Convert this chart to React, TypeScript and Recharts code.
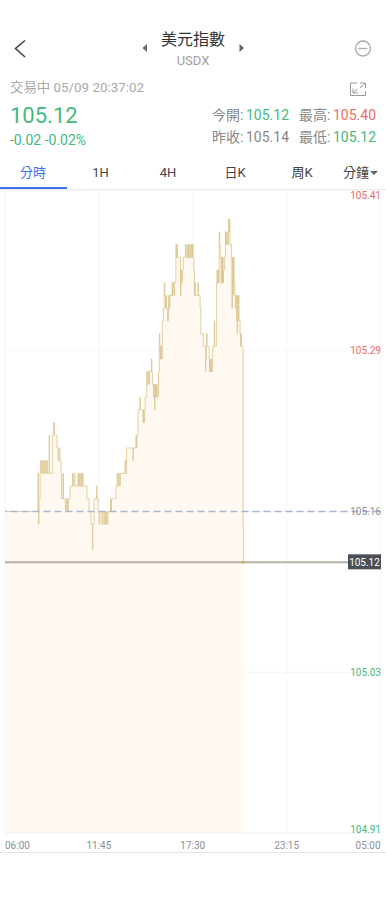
import React from 'react';
import {
  Area,
  CartesianGrid,
  ComposedChart,
  ReferenceDot,
  ReferenceLine,
  XAxis,
  YAxis
} from 'recharts';

// minutes after 06:00 at each price change
const minutes = [
  0, 121, 123, 125, 129, 130, 134, 138, 141, 145, 149, 152, 156, 162, 164, 175, 178, 182, 191, 195,
  198, 202, 206, 208, 213, 215, 222, 226, 230, 233, 239, 248, 250, 254, 257, 268, 270, 274, 276, 279,
  281, 285, 287, 301, 309, 316, 322, 323, 327, 336, 338, 342, 345, 349, 356, 360, 364, 367, 369, 373,
  375, 379, 388, 389, 391, 408, 412, 415, 417, 420, 424, 441, 443, 447, 470, 472, 481, 483, 485, 489,
  496, 498, 507, 509, 511, 513, 515, 521, 524, 525, 529, 531, 538, 540, 542, 546, 548, 550, 551, 553,
  555, 557, 559, 564, 567, 569, 571, 573, 575, 578, 582, 585, 587, 590, 592, 594, 597, 601, 604, 606,
  614, 616, 617, 621, 623, 628, 630, 632, 634, 645, 647, 649, 652, 655, 663, 665, 669, 671, 674, 676,
  679, 681, 685, 687, 689, 692, 694, 696, 698, 700, 709, 711, 717, 720, 729, 737, 738, 740, 743, 750,
  752, 753, 755, 757, 759, 763, 769, 771, 777, 779, 781, 783, 785, 787, 789, 791, 794, 796, 798, 800,
  802, 803, 807, 810, 812, 814, 818, 821, 823, 825, 827, 832, 834, 836, 838, 840, 842, 845, 847, 849,
  851, 853, 855, 856, 858, 860, 864, 866, 867, 869, 875, 876, 877
];

const prices = [
  105.16, 105.19, 105.15, 105.17, 105.19, 105.2, 105.19, 105.2, 105.19, 105.2, 105.19, 105.2, 105.19, 105.22, 105.19, 105.22, 105.23, 105.22, 105.21, 105.2,
  105.21, 105.2, 105.19, 105.17, 105.19, 105.17, 105.16, 105.17, 105.16, 105.17, 105.18, 105.19, 105.18, 105.19, 105.18, 105.19, 105.18, 105.19, 105.18, 105.19,
  105.18, 105.19, 105.18, 105.17, 105.16, 105.15, 105.13, 105.15, 105.17, 105.18, 105.17, 105.16, 105.15, 105.16, 105.15, 105.16, 105.15, 105.16, 105.15, 105.16,
  105.15, 105.16, 105.17, 105.16, 105.17, 105.18, 105.19, 105.18, 105.19, 105.18, 105.19, 105.2, 105.19, 105.21, 105.2, 105.21, 105.22, 105.21, 105.22, 105.24,
  105.25, 105.24, 105.23, 105.24, 105.23, 105.24, 105.25, 105.27, 105.26, 105.27, 105.26, 105.27, 105.28, 105.27, 105.26, 105.25, 105.26, 105.24, 105.25, 105.26,
  105.25, 105.26, 105.25, 105.27, 105.3, 105.29, 105.28, 105.29, 105.28, 105.31, 105.32, 105.34, 105.33, 105.32, 105.33, 105.32, 105.31, 105.33, 105.32, 105.33,
  105.34, 105.33, 105.34, 105.33, 105.34, 105.37, 105.36, 105.37, 105.36, 105.33, 105.35, 105.34, 105.35, 105.36, 105.37, 105.36, 105.37, 105.36, 105.37, 105.36,
  105.37, 105.36, 105.37, 105.36, 105.37, 105.36, 105.35, 105.33, 105.34, 105.33, 105.34, 105.33, 105.32, 105.3, 105.29, 105.27, 105.28, 105.3, 105.29, 105.28,
  105.27, 105.28, 105.27, 105.28, 105.27, 105.29, 105.31, 105.29, 105.34, 105.35, 105.34, 105.35, 105.34, 105.38, 105.37, 105.36, 105.34, 105.36, 105.34, 105.36,
  105.34, 105.35, 105.36, 105.38, 105.37, 105.38, 105.37, 105.39, 105.38, 105.39, 105.37, 105.36, 105.32, 105.36, 105.33, 105.36, 105.34, 105.33, 105.32, 105.33,
  105.31, 105.3, 105.33, 105.31, 105.33, 105.31, 105.3, 105.29, 105.3, 105.29, 105.15, 105.12, 105.12
];

const timeTicks = [0, 345, 690, 1035, 1380];
const timeLabels = ['06:00', '11:45', '17:30', '23:15', '05:00'];
const priceTicks = [104.907, 105.0335, 105.16, 105.2865, 105.413];
const tabs = ['分時', '1H', '4H', '日K', '周K', '分鐘'];
const tabCenters = [33, 100.5, 168, 235, 302, 356];

const lastPrice = 105.12;
const prevLine = 105.16;

const chartData = minutes.map((minute, i) => ({ minute, price: prices[i] }));

const FONT = 'Roboto, "Noto Sans CJK TC", sans-serif';
const GREEN = '#45b97c';
const RED = '#ee6b64';
const GRAY = '#888888';

function T({ x, y, size, color, anchor = 'left', children }: any) {
  const shift = anchor === 'center' ? '-50%' : anchor === 'right' ? '-100%' : '0';
  return (
    <span
      style={{
        position: 'absolute',
        left: x,
        top: y,
        transform: `translate(${shift}, -50%)`,
        fontSize: size,
        color,
        lineHeight: 1,
        whiteSpace: 'nowrap',
        fontFamily: FONT
      }}
    >
      {children}
    </span>
  );
}

function TimeTick({ x, y, payload, index }: any) {
  const anchor = index === 0 ? 'start' : index === timeLabels.length - 1 ? 'end' : 'middle';
  return (
    <text x={x} y={y} dy={8} textAnchor={anchor} fontSize={10} fontFamily={FONT} fill="#8a8f99">
      {timeLabels[timeTicks.indexOf(payload.value)]}
    </text>
  );
}

function PriceTick({ y, payload, index }: any) {
  const value = payload.value;
  const fill = value > prevLine ? RED : value < prevLine ? GREEN : '#8a8f99';
  const dy = index === 0 ? -4 : index === priceTicks.length - 1 ? 5 : 0;
  return (
    <text x={381} y={y + dy} dy={3.5} textAnchor="end" fontSize={10} fontFamily={FONT} fill={fill}>
      {value.toFixed(2)}
    </text>
  );
}

function LastTag({ viewBox }: any) {
  const y = viewBox.y;
  return (
    <g>
      <rect x={348} y={y - 8} width={33} height={15} fill="#4a4f57" />
      <text x={364.5} y={y} dy={3.5} textAnchor="middle" fontSize={10} fontFamily={FONT} fill="#ffffff">
        {lastPrice.toFixed(2)}
      </text>
    </g>
  );
}

function Header() {
  return (
    <>
      <svg width={386} height={190} style={{ position: 'absolute', left: 0, top: 0 }}>
        <polyline points="25,40.5 15.5,48.5 25,57" fill="none" stroke="#444" strokeWidth={1.6} />
        <polygon points="147,44 147,52 142.5,48" fill="#666" />
        <polygon points="239.5,44 239.5,52 244,48" fill="#666" />
        <circle cx={363} cy={48.5} r={7.5} fill="none" stroke="#aaa" strokeWidth={1.3} />
        <line x1={358.5} y1={48.5} x2={367.5} y2={48.5} stroke="#aaa" strokeWidth={1.3} />
        <polyline points="357,83 350.5,83 350.5,95.5 365.5,95.5 365.5,91" fill="none" stroke="#999" strokeWidth={1} />
        <polyline points="360,83 365.5,83 365.5,88" fill="none" stroke="#999" strokeWidth={1} />
        <line x1={360} y1={88} x2={365} y2={83.5} stroke="#999" strokeWidth={1} />
        <polyline points="353,88.5 353,93 358,93" fill="none" stroke="#999" strokeWidth={1} />
        <line x1={353.5} y1={92.5} x2={357.5} y2={89} stroke="#999" strokeWidth={1} />
        <polygon points="370,171 378,171 374,175" fill="#666" />
      </svg>
      <T x={193} y={40} size={16} color="#333" anchor="center">美元指數</T>
      <T x={193} y={60} size={13} color="#a0a0a0" anchor="center">USDX</T>
      <T x={10} y={87.5} size={13.4} color="#aaaaaa">交易中 05/09 20:37:02</T>
      <T x={10} y={116} size={22} color={GREEN}>105.12</T>
      <T x={10} y={140} size={14} color={GREEN}>-0.02 -0.02%</T>
      <T x={212} y={114.5} size={14} color={GRAY}>今開:</T>
      <T x={246} y={114.5} size={14} color={GREEN}>105.12</T>
      <T x={299} y={114.5} size={14} color={GRAY}>最高:</T>
      <T x={333} y={114.5} size={14} color={RED}>105.40</T>
      <T x={212} y={137} size={14} color={GRAY}>昨收:</T>
      <T x={246} y={137} size={14} color={GRAY}>105.14</T>
      <T x={299} y={137} size={14} color={GRAY}>最低:</T>
      <T x={333} y={137} size={14} color={GREEN}>105.12</T>
      {tabs.map((tab, i) => (
        <T key={tab} x={tabCenters[i]} y={172} size={13} color={i === 0 ? '#3d72e8' : '#444'} anchor="center">
          {tab}
        </T>
      ))}
      <div style={{ position: 'absolute', left: 0, top: 187, width: 67, height: 2, background: '#3d72e8' }} />
      <div style={{ position: 'absolute', left: 0, top: 189, width: 386, height: 1, background: '#ececec' }} />
      <div style={{ position: 'absolute', left: 0, top: 852, width: 386, height: 1, background: '#e6e6e6' }} />
    </>
  );
}

export default function App() {
  return (
    <div style={{ position: 'absolute', left: 0, top: 0, width: 386, height: 900, background: '#fff', overflow: 'hidden' }}>
      <Header />
      <div style={{ position: 'absolute', left: 0, top: 190 }}>
        <ComposedChart
          width={386}
          height={670}
          data={chartData}
          margin={{ top: 0, right: 5.5, bottom: 0, left: 5 }}
        >
          <CartesianGrid stroke="#f6f6f6" strokeWidth={1} />
          <XAxis
            dataKey="minute"
            type="number"
            domain={[0, 1380]}
            ticks={timeTicks}
            interval={0}
            height={27}
            tick={<TimeTick />}
            tickLine={false}
            axisLine={{ stroke: '#f3f3f3' }}
          />
          <YAxis
            orientation="right"
            mirror
            type="number"
            domain={[104.907, 105.413]}
            ticks={priceTicks}
            interval={0}
            tick={<PriceTick />}
            tickLine={false}
            axisLine={false}
            allowDataOverflow
          />
          <Area
            dataKey="price"
            type="stepAfter"
            stroke="#dcc48c"
            strokeWidth={0.8}
            fill="#fff9f1"
            fillOpacity={1}
            dot={false}
            activeDot={false}
            isAnimationActive={false}
          />
          <ReferenceLine y={prevLine} stroke="#a9b6d2" strokeWidth={1.3} strokeDasharray="7 4" />
          <ReferenceLine y={lastPrice} stroke="#b7b2a8" strokeWidth={2} label={<LastTag />} />
          <ReferenceDot x={877} y={lastPrice} r={1.5} fill="#d4ad5c" stroke="none" />
        </ComposedChart>
      </div>
    </div>
  );
}
